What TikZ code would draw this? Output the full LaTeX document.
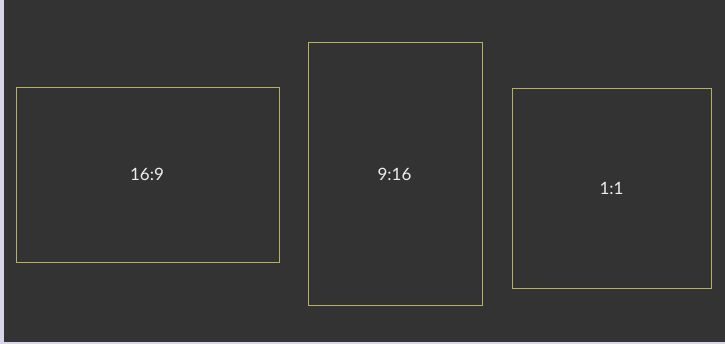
\documentclass[tikz,border=0pt]{standalone}
\usepackage{fontspec}
\setmainfont{Lato}
\definecolor{bg}{HTML}{333333}
\definecolor{strip}{HTML}{DAD6EA}
\definecolor{frame}{HTML}{B8B062}
\definecolor{txt}{HTML}{EDEDED}
\begin{document}
\begin{tikzpicture}[x=1pt,y=-1pt,
  ratio/.style={draw=frame,line width=0.9pt},
  lbl/.style={text=txt,font=\fontsize{17}{20}\selectfont,inner sep=0pt}]
\useasboundingbox (0,0) rectangle (725,344);
\fill[strip] (0,0) rectangle (725,344);
\fill[bg] (4,0) rectangle (725,342);
\draw[ratio] (16,87) rectangle (279,262);
\draw[ratio] (308,42.5) rectangle (482.5,305.5);
\draw[ratio] (512,88.5) rectangle (711.5,288.5);
\node[lbl] (a) at (147,174) {16:9};
\node[lbl] (b) at (394.5,174) {9:16};
\node[lbl] (c) at (611.5,188) {1:1};
\end{tikzpicture}
\end{document}
